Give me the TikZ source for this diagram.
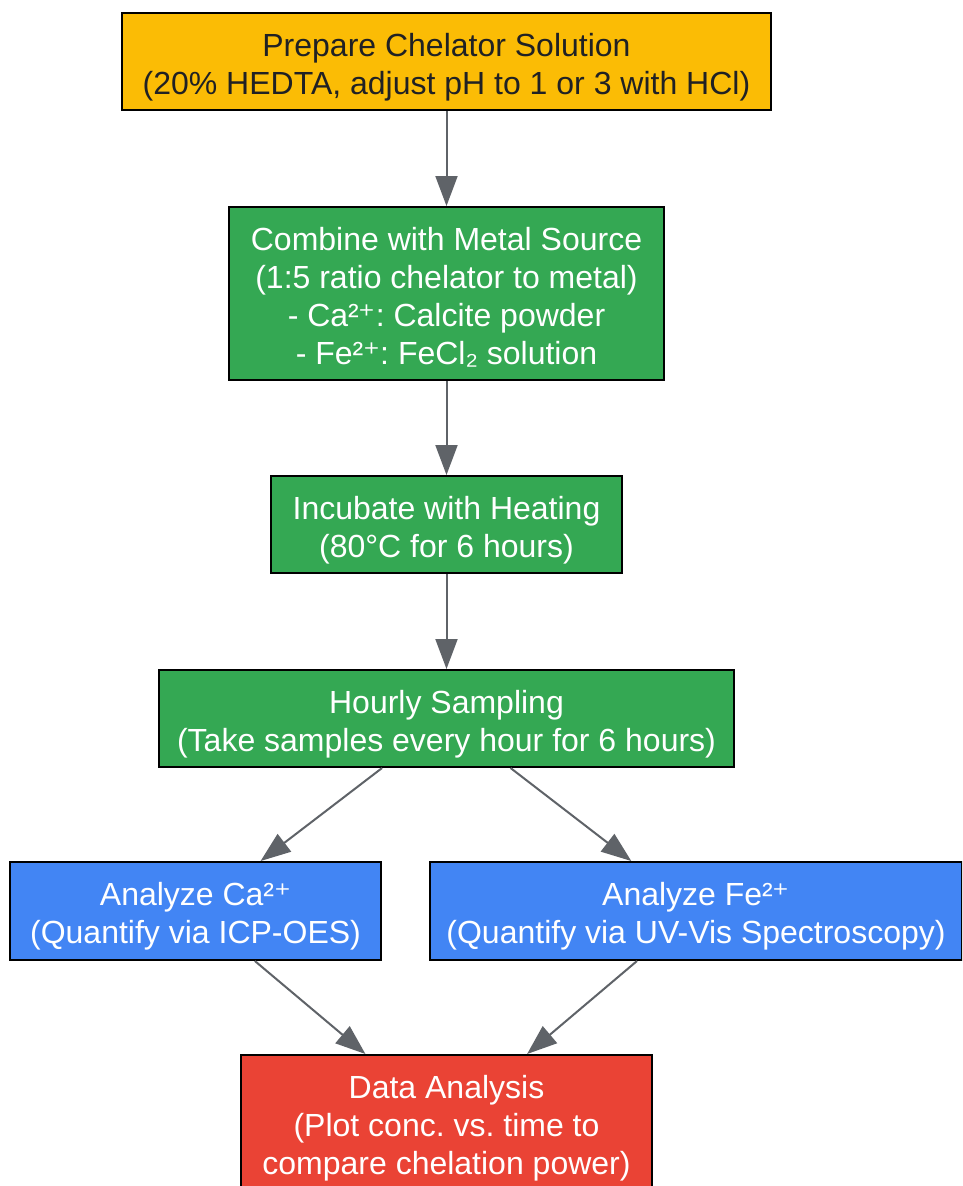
\documentclass[tikz,border=0pt]{standalone}
\usepackage{fontspec}
\setmainfont{Liberation Sans}
\newfontfamily\dejavu{DejaVu Sans}
\usetikzlibrary{arrows.meta}
\definecolor{cyellow}{HTML}{FBBC05}
\definecolor{cgreen}{HTML}{34A853}
\definecolor{cblue}{HTML}{4285F4}
\definecolor{cred}{HTML}{EA4335}
\definecolor{cgray}{HTML}{5F6368}
\definecolor{cdark}{HTML}{202124}
\frenchspacing
\newcommand{\lines}[1]{\raisebox{-6pt}[\height][\depth]{\begin{tabular}{@{}c@{}}#1\end{tabular}}}
\newcommand{\splus}{{\dejavu ⁺}}
\begin{document}
\begin{tikzpicture}[x=1pt,y=-1pt,
  box/.style={draw=black,line width=2pt,align=center,inner sep=0pt,
    font=\fontsize{32pt}{38pt}\selectfont\frenchspacing,text=white},
  conn/.style={draw=cgray,line width=2pt,-{Triangle[length=30pt,width=22pt]}}]
\useasboundingbox (0,0) rectangle (962,1186);
\clip (0,0) rectangle (962,1186);
\fill[white] (0,0) rectangle (962,1186);
\node[box,fill=cyellow,text=cdark,minimum width=649pt,minimum height=97pt] (n1) at (446.5,61.5)
  {\lines{Prepare Chelator Solution\\(20\% HEDTA, adjust pH to 1 or 3 with HCl)}};
\node[box,fill=cgreen,minimum width=435pt,minimum height=173pt] (n2) at (446.5,293.5)
  {\lines{Combine with Metal Source\\(1:5 ratio chelator to metal)\\- Ca²\splus: Calcite powder\\- Fe²\splus: FeCl₂ solution}};
\node[box,fill=cgreen,minimum width=351pt,minimum height=97pt] (n3) at (446.5,524.5)
  {\lines{Incubate with Heating\\(80°C for 6 hours)}};
\node[box,fill=cgreen,minimum width=575pt,minimum height=97pt] (n4) at (446.5,718.5)
  {\lines{Hourly Sampling\\(Take samples every hour for 6 hours)}};
\node[box,fill=cblue,minimum width=371pt,minimum height=98pt] (n5) at (195.5,911)
  {\lines{Analyze Ca²\splus\\(Quantify via ICP-OES)}};
\node[box,fill=cblue,minimum width=532pt,minimum height=98pt] (n6) at (696,911)
  {\lines{Analyze Fe²\splus\\(Quantify via UV-Vis Spectroscopy)}};
\node[box,fill=cred,minimum width=411pt,minimum height=135pt] (n7) at (446.5,1122.5)
  {\lines{Data Analysis\\(Plot conc. vs. time to\\compare chelation power)}};
\draw[conn] (n1) -- (n2);
\draw[conn] (n2) -- (n3);
\draw[conn] (n3) -- (n4);
\draw[conn] (n4) -- (n5);
\draw[conn] (n4) -- (n6);
\draw[conn] (n5) -- (n7);
\draw[conn] (n6) -- (n7);
\end{tikzpicture}
\end{document}
